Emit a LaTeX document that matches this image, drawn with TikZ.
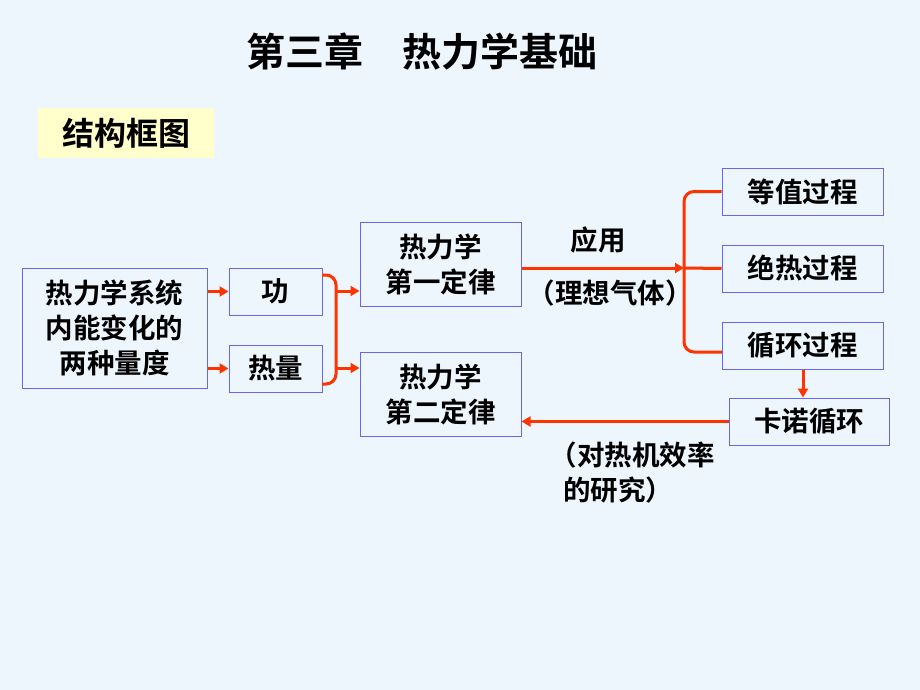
\documentclass[tikz,border=0pt]{standalone}
\usepackage{fontspec}
\setmainfont{Noto Sans CJK SC}[BoldFont={* Bold}]
\usetikzlibrary{arrows.meta}
\definecolor{bg}{HTML}{EEF6FD}
\definecolor{rd}{HTML}{FF3300}
\definecolor{bd}{HTML}{6666EE}
\definecolor{yl}{HTML}{FFFFCC}
\begin{document}
\begin{tikzpicture}[x=1pt,y=-1pt,
  box/.style={draw=bd,line width=1pt,minimum height=47pt,inner sep=0pt,align=center,font=\bfseries\fontsize{27.5}{35}\selectfont},
  ln/.style={draw=rd,line width=3pt,rounded corners=10pt},
  ar/.style={ln,-{Triangle[length=9pt,width=10pt]}},
  lab/.style={font=\bfseries\fontsize{27.5}{35}\selectfont,align=center}]
\fill[bg] (0,0) rectangle (920,690);
\useasboundingbox (0,0) rectangle (920,690);
\node[font=\bfseries\fontsize{39}{44}\selectfont] (title) at (422,52) {第三章\quad 热力学基础};
\node[fill=yl,minimum width=176pt,minimum height=50pt,font=\bfseries\fontsize{32}{36}\selectfont] (lbl) at (126,133) {结构框图};
\node[box,minimum width=185pt,minimum height=120pt,font=\bfseries\fontsize{27.5}{35}\selectfont] (sys) at (114.5,328) {热力学系统\\内能变化的\\两种量度};
\node[box,minimum width=93pt] (work) at (275.5,291.5) {功};
\node[box,minimum width=93pt] (heat) at (275.5,368.5) {热量};
\node[box,minimum width=161pt,minimum height=84pt] (l1) at (440.5,264) {热力学\\第一定律};
\node[box,minimum width=161pt,minimum height=84pt] (l2) at (440.5,394) {热力学\\第二定律};
\node[box,minimum width=161pt] (p1) at (802.5,191.5) {等值过程};
\node[box,minimum width=161pt] (p2) at (802.5,268.5) {绝热过程};
\node[box,minimum width=161pt] (p3) at (802.5,345.5) {循环过程};
\node[box,minimum width=160pt] (cn) at (809,421.5) {卡诺循环};
\node[lab] (app) at (598,240) {应用};
\node[lab] (ig) at (610,293) {（理想气体）};
\node[lab] (eff) at (632,473) {（对热机效率\\\hspace{-1em}的研究）};
\coordinate (b1) at (336,291);
\coordinate (b2) at (336,368);
\coordinate (c1) at (684,268);
\draw[ar] (sys.east |- work) -- (work.west);
\draw[ar] (sys.east |- heat) -- (heat.west);
\draw[ln] (322,275) -- (336,275) -- (336,384) -- (322,384);
\draw[ar] (b1) -- (l1.west |- b1);
\draw[ar] (b2) -- (l2.west |- b2);
\draw[ar] (l1.east |- c1) -- (c1);
\draw[ln] (p1.west) -- (684,191.5) -- (684,352) -- (722,352);
\draw[ln] (684,268) -- (p2.west);
\draw[ar] (p3.south -| 803,0) -- (cn.north -| 803,0);
\draw[ar] (cn.west) -- (l2.east |- cn.west);
\end{tikzpicture}
\end{document}
